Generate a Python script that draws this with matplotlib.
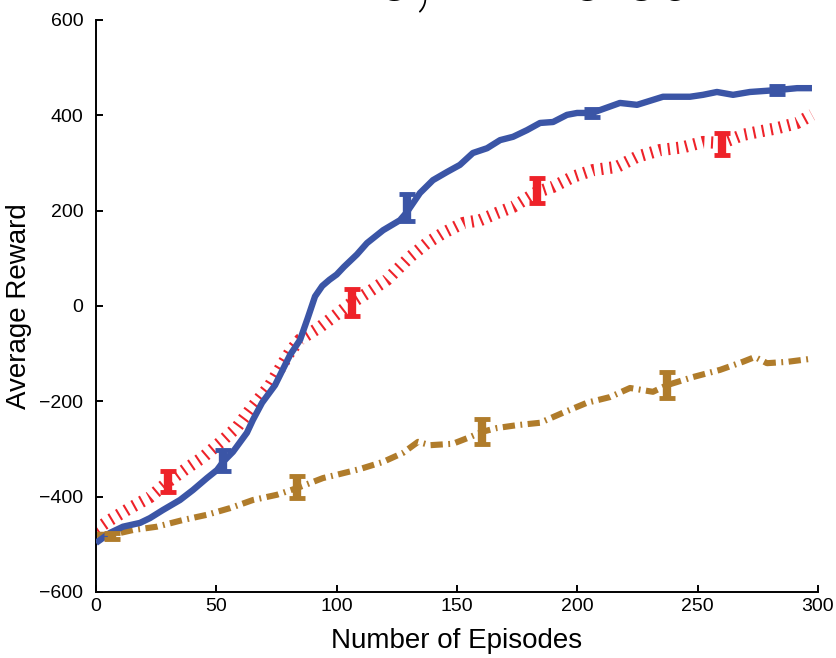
import matplotlib
matplotlib.use("Agg")
import matplotlib.pyplot as plt

plt.rcParams["font.family"] = ["Liberation Sans", "DejaVu Sans"]
plt.rcParams["mathtext.fontset"] = "cm"

# Learning curves: average reward vs. number of episodes
blue_x = [0, 5.8, 11.2, 18.3, 22.4, 27.8, 34.9, 40.3, 46.1, 50.3, 52.8, 56.9, 62.7,
          65.2, 69, 74.4, 80.6, 84.8, 88, 91, 94, 97, 100, 103, 108.4, 112.6,
          119.3, 126.3, 129.2, 134.6, 140, 145.8, 151.2, 156.6, 162.5, 167.9,
          173.3, 179.1, 184.5, 189.9, 195.7, 199.9, 206.1, 217.7, 224.8, 235.6,
          246.8, 252.2, 258, 264.7, 271.7, 283, 291.3, 297.5]
blue_y = [-497, -476, -463, -455, -445, -428, -407, -386, -361, -344, -327, -306, -266,
          -239, -203, -166, -103, -71, -25, 20, 42, 55, 66, 82, 108, 132,
          159, 180, 197, 237, 264, 281, 296, 321, 331, 348,
          355, 369, 384, 386, 401, 405, 405, 426, 422, 439,
          439, 443, 449, 443, 449, 453, 457, 457]

red_x = [0, 5.8, 14.1, 22.4, 29.9, 37.8, 44.5, 52.8, 58.6, 64, 72.3, 80.6, 84.8,
         93.1, 101.4, 106, 112.6, 120.9, 130.5, 137.5, 144.2, 152.5, 159.6, 166.6,
         173.3, 183.2, 189.9, 198.2, 206.5, 216.5, 224.8, 234.3, 243.9, 252.2,
         260.1, 268.8, 274.6, 283, 291.3, 297.5]
red_y = [-469, -449, -424, -401, -369, -340, -317, -281, -254, -218, -166, -96, -70,
         -44, -12, 6, 27, 55, 103, 132, 153, 174, 180, 195,
         208, 239, 250, 271, 285, 292, 313, 327, 333, 344,
         342, 359, 365, 373, 384, 401]

brown_x = [0, 6.6, 15.4, 25.3, 36.1, 46.1, 55.7, 65.2, 75.2, 83.5, 94.3, 100.1,
           109.7, 119.3, 127.6, 133.8, 138.8, 148.3, 155.4, 160.4, 166.6, 174.9,
           184.5, 194, 204, 213.6, 221.9, 231.4, 237.3, 248.1, 259.3, 268.8,
           273.8, 278.8, 287.5, 296.7]
brown_y = [-480, -480, -470, -463, -449, -438, -424, -407, -396, -382, -361, -354,
           -342, -327, -308, -285, -292, -289, -275, -264, -256, -250,
           -245, -224, -203, -191, -172, -180, -166, -149, -134, -117,
           -107, -120, -117, -111]

# Error bars at evenly spaced checkpoints
blue_ex = [52.8, 129.2, 206.1, 283.0]
blue_ey = [-325, 206, 405, 453]
blue_ee = [22, 28, 8, 8]

red_ex = [29.9, 106.3, 183.2, 260.1]
red_ey = [-369, 8, 243, 340]
red_ee = [22, 28, 26, 23]

brown_ex = [6.6, 83.5, 160.4, 237.3]
brown_ey = [-482, -380, -264, -166]
brown_ee = [6, 23, 26, 27]

x_ticks = [0, 50, 100, 150, 200, 250, 300]
y_ticks = [-600, -400, -200, 0, 200, 400, 600]

c_blue = "#3b55a6"
c_red = "#ee2229"
c_brown = "#b07c2b"

fig = plt.figure(figsize=(8.36, 6.58), dpi=100)
ax = fig.add_axes([96 / 836, 1 - 592 / 658, 722 / 836, 572 / 658])

ax.plot(blue_x, blue_y, color=c_blue, lw=4.6, solid_capstyle="butt",
        solid_joinstyle="round", zorder=3)
ax.plot(red_x, red_y, color=c_red, lw=8.8, dashes=(0.17, 0.55), zorder=2)
ax.plot(brown_x, brown_y, color=c_brown, lw=4.4, dashes=(2.0, 0.9, 0.3, 0.9), zorder=2)

for ex, ey, ee, c in [(blue_ex, blue_ey, blue_ee, c_blue),
                      (red_ex, red_ey, red_ee, c_red),
                      (brown_ex, brown_ey, brown_ee, c_brown)]:
    ax.errorbar(ex, ey, yerr=ee, fmt="none", ecolor=c, elinewidth=6.0,
                capsize=5.8, capthick=3.5, zorder=4)

ax.set_xlim(0, 300)
ax.set_ylim(-600, 600)
ax.set_xticks(x_ticks)
ax.set_yticks(y_ticks)
ax.spines["top"].set_visible(False)
ax.spines["right"].set_visible(False)
for s in ("left", "bottom"):
    ax.spines[s].set_linewidth(1.4)
ax.tick_params(direction="in", length=5, width=1.4, labelsize=14)
ax.tick_params(axis="x", pad=4)
ax.tick_params(axis="y", pad=9)

ax.set_xlabel("Number of Episodes", fontsize=20, labelpad=10)
ax.set_ylabel("Average Reward", fontsize=20, labelpad=5)

fig.text(0.536, 1 + 1 / 658, r"$\lambda = 2.0,\ \epsilon = 0.05$",
         fontsize=50, ha="center", va="baseline")

fig.savefig("out.png", dpi=100)
